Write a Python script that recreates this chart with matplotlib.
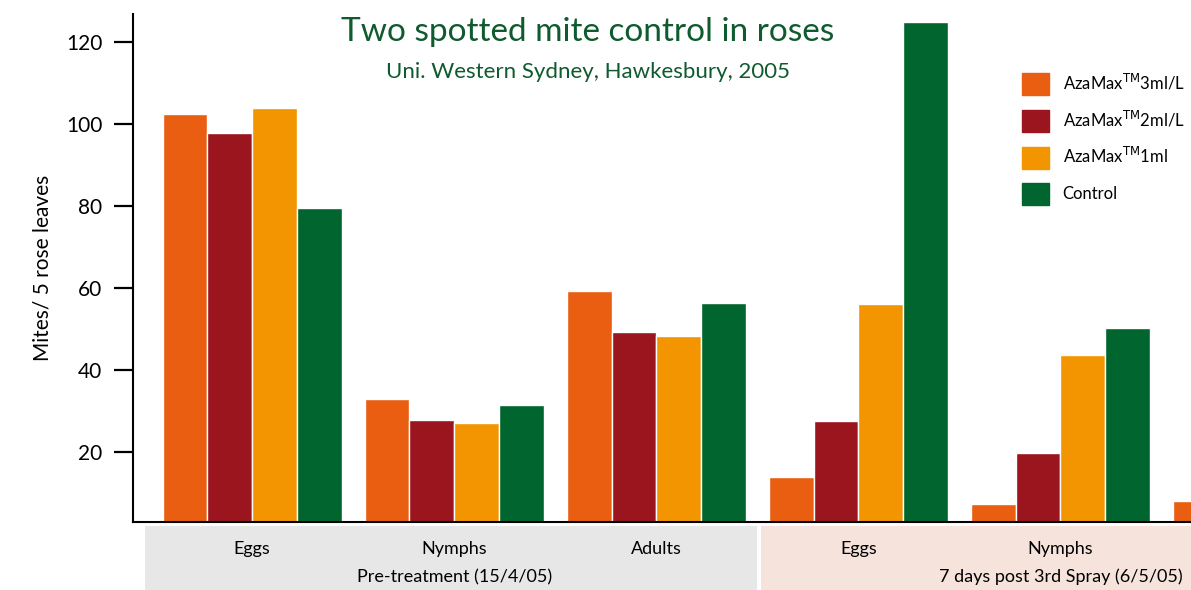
import matplotlib.pyplot as plt
import matplotlib.patches as mpatches
import numpy as np

plt.rcParams['font.family'] = ['Lato', 'DejaVu Sans']

# data
stages = ["Eggs", "Nymphs", "Adults", "Eggs", "Nymphs", "Adults"]
periods = ["Pre-treatment (15/4/05)", "7 days post 3rd Spray (6/5/05)"]
series = [r"AzaMax$^{\mathrm{TM}}$3ml/L", r"AzaMax$^{\mathrm{TM}}$2ml/L",
          r"AzaMax$^{\mathrm{TM}}$1ml", "Control"]
aza3 = [102.4, 32.9, 59.3, 13.9, 7.3, 8.0]
aza2 = [97.8, 27.8, 49.3, 27.6, 19.7, 15.0]
aza1 = [103.9, 27.1, 48.3, 56.1, 43.7, 30.0]
control = [79.5, 31.5, 56.3, 124.9, 50.2, 45.0]
colours = ['#E95E10', '#9A151E', '#F29500', '#00652E']

fig = plt.figure(figsize=(11.91, 5.9), dpi=100)
ax = fig.add_axes([0.1117, 0.1153, 0.8883, 0.861])

x = np.arange(len(stages))
w = 0.222
values = [aza3, aza2, aza1, control]
for i in range(4):
    ax.bar(x + (i - 1.5) * w, values[i], width=w, color=colours[i],
           edgecolor='white', linewidth=1, label=series[i])

ax.set_xlim(-0.59, 4.646)
ax.set_ylim(2.9, 126.8)
ax.set_yticks([20, 40, 60, 80, 100, 120])
ax.set_xticks([])
ax.tick_params(axis='y', length=14, width=1.6, labelsize=15, pad=8)
ax.spines['top'].set_visible(False)
ax.spines['right'].set_visible(False)
ax.spines['left'].set_linewidth(1.5)
ax.spines['bottom'].set_linewidth(1.5)
ax.set_ylabel("Mites/ 5 rose leaves", fontsize=15, labelpad=10)

# title inside the plot
ax.text(0.43, 0.995, "Two spotted mite control in roses", transform=ax.transAxes,
        ha='center', va='top', fontsize=24, color='#0F5A2E')
ax.text(0.43, 0.905, "Uni. Western Sydney, Hawkesbury, 2005", transform=ax.transAxes,
        ha='center', va='top', fontsize=16, color='#0F5A2E')

handles = [mpatches.Patch(color=c) for c in colours]
ax.legend(handles, series, loc='upper left', bbox_to_anchor=(0.84, 0.885),
          frameon=False, fontsize=12, handlelength=1.65, handleheight=1.65,
          labelspacing=0.85, handletextpad=0.8, borderpad=0, borderaxespad=0)

# category band underneath
band = fig.add_axes([0.1117, 0, 0.8883, 0.1085], sharex=ax)
band.axis('off')
band.set_ylim(0, 1)
band.axvspan(-0.53, 2.497, color='#E6E7E6', lw=0)
band.axvspan(2.52, 6, color='#F6E4DC', lw=0)
for i in range(5):
    band.text(x[i], 0.64, stages[i], ha='center', va='center', fontsize=13)
band.text(1, 0.2, periods[0], ha='center', va='center', fontsize=13)
band.text(4, 0.2, periods[1], ha='center', va='center', fontsize=13)
band.set_xlim(-0.59, 4.646)

plt.savefig("out.png", dpi=100)
